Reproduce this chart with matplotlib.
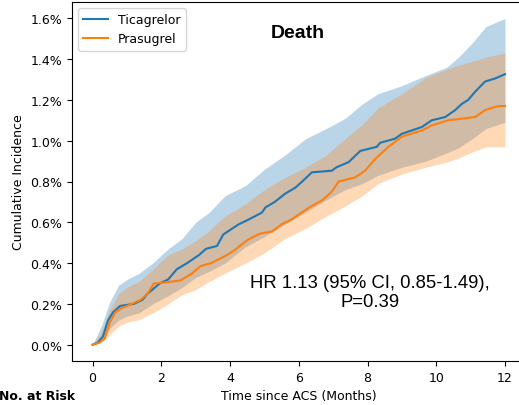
import matplotlib
matplotlib.use("Agg")
import matplotlib.pyplot as plt
from matplotlib.ticker import FuncFormatter

# Kaplan-Meier cumulative incidence of death (%), months since ACS
t_tica = [0, 0.15, 0.3, 0.45, 0.6, 0.8, 1.2, 1.45, 1.6, 1.95, 2.2, 2.45, 2.75, 3.1, 3.3,
          3.62, 3.8, 4.25, 4.5, 4.93, 5.03, 5.3, 5.6, 5.9, 6.1, 6.38, 6.96, 7.1, 7.45,
          7.79, 8.27, 8.37, 8.8, 9.0, 9.58, 9.87, 10.26, 10.55, 10.74, 10.93, 11.13,
          11.42, 11.71, 12.0]
y_tica = [0, 0.01, 0.04, 0.12, 0.16, 0.19, 0.20, 0.22, 0.25, 0.30, 0.32, 0.37, 0.40, 0.44,
          0.47, 0.484, 0.54, 0.59, 0.61, 0.648, 0.673, 0.70, 0.74, 0.77, 0.80, 0.845,
          0.853, 0.87, 0.895, 0.95, 0.97, 0.99, 1.01, 1.034, 1.067, 1.10, 1.116, 1.15,
          1.18, 1.20, 1.24, 1.29, 1.305, 1.326]

t_pras = [0, 0.2, 0.35, 0.5, 0.67, 0.85, 1.0, 1.4, 1.6, 1.78, 2.1, 2.56, 2.9, 3.14, 3.45,
          3.86, 4.1, 4.54, 4.88, 5.22, 5.5, 5.8, 6.1, 6.38, 6.7, 6.96, 7.16, 7.64, 7.93,
          8.22, 8.61, 9.0, 9.58, 9.87, 10.35, 11.13, 11.42, 11.8, 12.0]
y_pras = [0, 0.01, 0.03, 0.11, 0.16, 0.18, 0.19, 0.22, 0.25, 0.30, 0.305, 0.315, 0.35,
          0.385, 0.40, 0.435, 0.46, 0.517, 0.545, 0.555, 0.59, 0.615, 0.65, 0.68, 0.71,
          0.75, 0.80, 0.82, 0.853, 0.91, 0.97, 1.02, 1.05, 1.075, 1.10, 1.116, 1.15,
          1.17, 1.17]

# 95% confidence bands
t_band = [0, 0.25, 0.5, 0.75, 1.0, 1.35, 1.75, 2.2, 2.6, 3.0, 3.4, 3.85, 4.45, 5.0, 5.6,
          6.2, 6.8, 7.35, 7.85, 8.3, 9.0, 9.7, 10.3, 10.65, 11.05, 11.45, 12.0]
tica_hi = [0, 0.09, 0.21, 0.29, 0.32, 0.35, 0.40, 0.47, 0.52, 0.60, 0.65, 0.73, 0.78, 0.86,
           0.93, 1.01, 1.06, 1.11, 1.18, 1.23, 1.27, 1.32, 1.36, 1.41, 1.48, 1.56, 1.60]
tica_lo = [0, 0.02, 0.08, 0.12, 0.14, 0.156, 0.20, 0.24, 0.28, 0.33, 0.36, 0.40, 0.48, 0.53,
           0.59, 0.65, 0.71, 0.76, 0.79, 0.83, 0.87, 0.90, 0.94, 0.965, 1.01, 1.06, 1.09]
pras_hi = [0, 0.06, 0.17, 0.25, 0.28, 0.31, 0.37, 0.44, 0.47, 0.51, 0.56, 0.63, 0.69, 0.76,
           0.82, 0.87, 0.93, 1.01, 1.08, 1.16, 1.23, 1.31, 1.35, 1.37, 1.39, 1.41, 1.43]
pras_lo = [0, 0.01, 0.05, 0.09, 0.11, 0.123, 0.155, 0.20, 0.245, 0.27, 0.31, 0.35, 0.40,
           0.45, 0.52, 0.57, 0.63, 0.68, 0.73, 0.79, 0.837, 0.87, 0.895, 0.915, 0.945,
           0.97, 0.97]

series_names = ["Ticagrelor", "Prasugrel"]
x_ticks = [0, 2, 4, 6, 8, 10, 12]
y_ticks = [0.0, 0.2, 0.4, 0.6, 0.8, 1.0, 1.2, 1.4, 1.6]

BLUE = "#1f77b4"
ORANGE = "#ff7f0e"

fig = plt.figure(figsize=(5.19, 4.06), dpi=100)
ax = fig.add_axes([72 / 519, 44 / 406, (525.6 - 72) / 519, (403 - 44) / 406])

ax.fill_between(t_band, tica_lo, tica_hi, color=BLUE, alpha=0.3, linewidth=0)
ax.fill_between(t_band, pras_lo, pras_hi, color=ORANGE, alpha=0.3, linewidth=0)
ax.plot(t_tica, y_tica, color=BLUE, lw=1.5, label=series_names[0])
ax.plot(t_pras, y_pras, color=ORANGE, lw=1.5, label=series_names[1])

ax.set_xlim(-0.6, 12.6)
ax.set_ylim(-0.08, 1.68)
ax.set_xticks(x_ticks)
ax.set_yticks(y_ticks)
ax.yaxis.set_major_formatter(FuncFormatter(lambda v, _: f"{v:.1f}%"))
ax.tick_params(labelsize=9)
ax.set_xlabel("Time since ACS (Months)", fontsize=9)
ax.set_ylabel("Cumulative Incidence", fontsize=9)

ax.legend(loc="upper left", fontsize=9)

fig.text(298 / 519, 1 - 34 / 406, "Death", fontsize=14, fontweight="bold",
         family="Liberation Sans", ha="center", va="center")
ax.text(8.08, 0.26, "HR 1.13 (95% CI, 0.85-1.49),\nP=0.39", fontsize=13.3,
        family="Liberation Sans", ha="center", va="center", linespacing=1.15)

fig.text(75 / 519, 1 - 397 / 406, "No. at Risk", fontsize=9, fontweight="bold",
         ha="right", va="center")

fig.savefig("out.png", dpi=100)
